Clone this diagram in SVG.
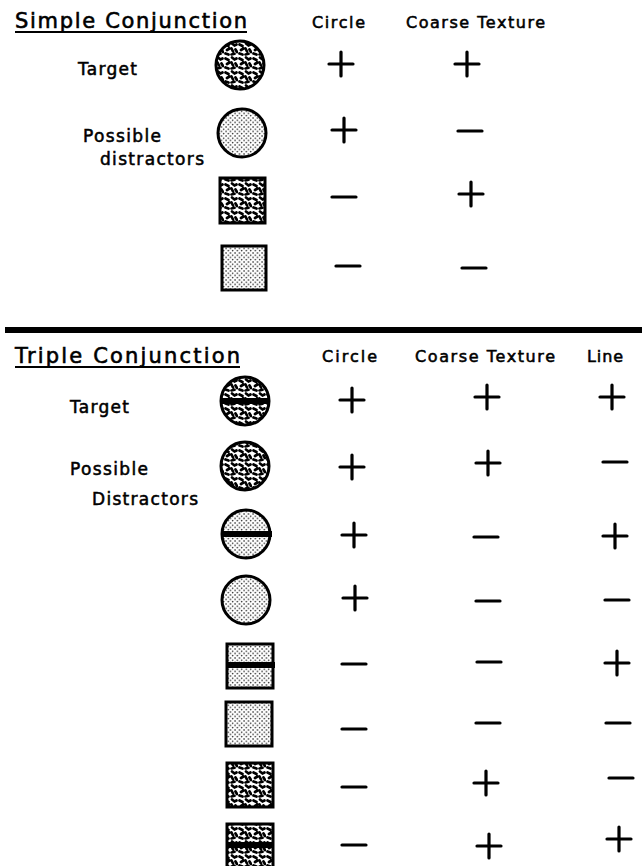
<svg xmlns="http://www.w3.org/2000/svg" width="642" height="866" viewBox="0 0 642 866">
  <style>
    text { font-family: "DejaVu Sans", "Liberation Sans", sans-serif; fill: #000; stroke: #000; stroke-width: 0.55; }
    .title { font-size: 21px; stroke-width: 0.6; }
    .head { font-size: 16px; }
    .label { font-size: 17px; }
    .shape { stroke: #000; stroke-width: 3; }
    .sign { stroke: #000; stroke-width: 3.2; stroke-linecap: round; fill: none; }
    .rule { stroke: #000; stroke-width: 1.8; }
  </style>
  <defs>
    <!-- fine dotted fill -->
    <pattern id="fine" width="4.5" height="4.5" patternUnits="userSpaceOnUse">
      <rect width="4.5" height="4.5" fill="#fff"/>
      <circle cx="1" cy="1" r="0.75" fill="#000"/>
      <circle cx="3.25" cy="3.25" r="0.75" fill="#000"/>
    </pattern>
    <!-- coarse blotchy fill -->
    <pattern id="coarse" width="14" height="14" patternUnits="userSpaceOnUse">
      <rect width="14" height="14" fill="#fff"/>
      <path d="M1.5 2.5L4.5 4M8 1.5L10.5 3.5L12.5 2.5M3 8L5.5 6.5M7.5 6.5L9 9.5M11.5 7.5L13 10M1.5 11.5L4.5 12.5M7.5 12.5L10.5 11.8" stroke="#000" stroke-width="2.7" stroke-linecap="round" fill="none"/>
    </pattern>
    <path id="plus" d="M-12 0H12M0 -12V12"/>
    <path id="minus" d="M-12 0H12"/>
  </defs>

  <!-- Simple conjunction table -->
  <g id="simple-header">
    <text class="title" x="15" y="28" textLength="232">Simple Conjunction</text>
    <line class="rule" x1="15" y1="32" x2="247" y2="32"/>
    <text class="head" x="312" y="28" textLength="53">Circle</text>
    <text class="head" x="406" y="28" textLength="139">Coarse Texture</text>
  </g>
  <g id="simple-labels">
    <text class="label" x="78" y="75" textLength="59">Target</text>
    <text class="label" x="83" y="142" textLength="78">Possible</text>
    <text class="label" x="100" y="165" textLength="104">distractors</text>
  </g>
  <g id="simple-row1">
    <circle class="shape" cx="240" cy="65" r="24" fill="url(#coarse)"/>
    <use href="#plus" class="sign" x="341" y="64"/>
    <use href="#plus" class="sign" x="467" y="64"/>
  </g>
  <g id="simple-row2">
    <circle class="shape" cx="242" cy="133" r="24" fill="url(#fine)"/>
    <use href="#plus" class="sign" x="344" y="130"/>
    <use href="#minus" class="sign" x="470" y="131"/>
  </g>
  <g id="simple-row3">
    <rect class="shape" x="220" y="178" width="45" height="45" fill="url(#coarse)"/>
    <use href="#minus" class="sign" x="344" y="197"/>
    <use href="#plus" class="sign" x="471" y="194"/>
  </g>
  <g id="simple-row4">
    <rect class="shape" x="222" y="246" width="44" height="44" fill="url(#fine)"/>
    <use href="#minus" class="sign" x="348" y="266"/>
    <use href="#minus" class="sign" x="474" y="268"/>
  </g>

  <!-- divider between the two tables -->
  <rect id="divider" x="5" y="327" width="637" height="6" fill="#000"/>

  <!-- Triple conjunction table -->
  <g id="triple-header">
    <text class="title" x="15" y="363" textLength="225">Triple Conjunction</text>
    <line class="rule" x1="15" y1="367" x2="240" y2="367"/>
    <text class="head" x="322" y="362" textLength="55">Circle</text>
    <text class="head" x="415" y="362" textLength="140">Coarse Texture</text>
    <text class="head" x="587" y="362" textLength="36">Line</text>
  </g>
  <g id="triple-labels">
    <text class="label" x="70" y="413" textLength="59">Target</text>
    <text class="label" x="70" y="475" textLength="78">Possible</text>
    <text class="label" x="92" y="505" textLength="106">Distractors</text>
  </g>
  <g id="triple-row1">
    <circle class="shape" cx="245" cy="401" r="24" fill="url(#coarse)"/>
    <rect x="221" y="398" width="49" height="6" fill="#000"/>
    <use href="#plus" class="sign" x="352" y="400"/>
    <use href="#plus" class="sign" x="487" y="397"/>
    <use href="#plus" class="sign" x="612" y="397"/>
  </g>
  <g id="triple-row2">
    <circle class="shape" cx="245" cy="466" r="24" fill="url(#coarse)"/>
    <use href="#plus" class="sign" x="352" y="467"/>
    <use href="#plus" class="sign" x="488" y="463"/>
    <use href="#minus" class="sign" x="615" y="462"/>
  </g>
  <g id="triple-row3">
    <circle class="shape" cx="246" cy="534" r="24" fill="url(#fine)"/>
    <rect x="221" y="531" width="51" height="6" fill="#000"/>
    <use href="#plus" class="sign" x="354" y="535"/>
    <use href="#minus" class="sign" x="486" y="537"/>
    <use href="#plus" class="sign" x="615" y="536"/>
  </g>
  <g id="triple-row4">
    <circle class="shape" cx="246" cy="600" r="24" fill="url(#fine)"/>
    <use href="#plus" class="sign" x="355" y="598"/>
    <use href="#minus" class="sign" x="488" y="601"/>
    <use href="#minus" class="sign" x="617" y="600"/>
  </g>
  <g id="triple-row5">
    <rect class="shape" x="227" y="644" width="46" height="44" fill="url(#fine)"/>
    <rect x="226" y="662" width="49" height="6" fill="#000"/>
    <use href="#minus" class="sign" x="354" y="664"/>
    <use href="#minus" class="sign" x="489" y="662"/>
    <use href="#plus" class="sign" x="617" y="663"/>
  </g>
  <g id="triple-row6">
    <rect class="shape" x="226" y="702" width="46" height="44" fill="url(#fine)"/>
    <use href="#minus" class="sign" x="354" y="729"/>
    <use href="#minus" class="sign" x="488" y="723"/>
    <use href="#minus" class="sign" x="618" y="723"/>
  </g>
  <g id="triple-row7">
    <rect class="shape" x="227" y="763" width="46" height="44" fill="url(#coarse)"/>
    <use href="#minus" class="sign" x="354" y="787"/>
    <use href="#plus" class="sign" x="486" y="783"/>
    <use href="#minus" class="sign" x="621" y="778"/>
  </g>
  <g id="triple-row8">
    <rect class="shape" x="227" y="824" width="46" height="44" fill="url(#coarse)"/>
    <rect x="226" y="842" width="48" height="6" fill="#000"/>
    <use href="#minus" class="sign" x="354" y="845"/>
    <use href="#plus" class="sign" x="489" y="846"/>
    <use href="#plus" class="sign" x="619" y="839"/>
  </g>
</svg>
